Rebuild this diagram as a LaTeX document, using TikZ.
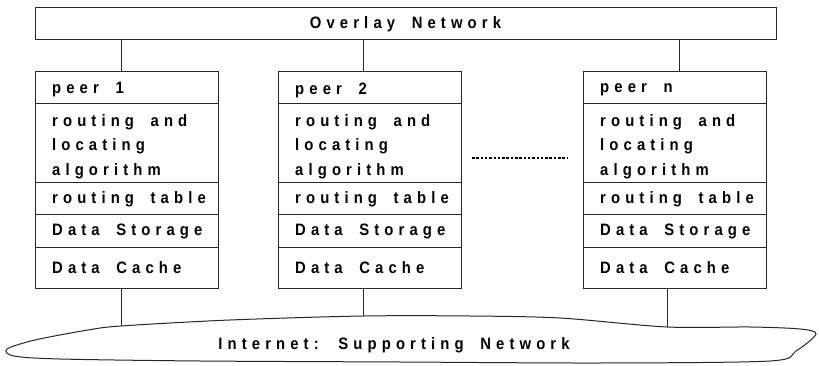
\documentclass[tikz,border=0pt]{standalone}
\usepackage{fontspec}
\setmainfont{Liberation Sans}[FakeStretch=0.9, LetterSpace=31, WordSpace=1.8]
\usetikzlibrary{positioning}

\begin{document}
\begin{tikzpicture}[x=1pt, y=-1pt,
        font=\fontsize{16.5}{24.5}\selectfont\bfseries,
        box/.style={draw=black!85, line width=1pt, inner sep=0pt, outer sep=0pt},
        rowbox/.style={box, minimum width=183pt},
        rowtext/.style={anchor=west, align=left, inner sep=0pt},
        wire/.style={draw=black!85, line width=1pt}]
    \useasboundingbox (0,0) rectangle (819,366);

    % overlay network on top
    \node[box, minimum width=741pt, minimum height=32pt] (overlay) at (405.5,24) {Overlay Network};

    % supporting network below
    \draw[wire] plot[smooth cycle, tension=0.5] coordinates {
        (7,349) (35,340) (88,330) (121,326) (230,320) (363,316) (470,316)
        (560,318) (667,327) (750,327) (800,329) (816,334) (796,351) (770,361)
        (600,363) (400,362) (200,361) (60,359) (14,356)};
    \node[inner sep=0pt] (internet) at (394,345) {Internet: Supporting Network};

    % the peers
    \foreach \i/\px/\tx/\bx/\by in {1/35/121/121/326, 2/278/363/363/316, n/583/679/667/327}
    {
        \node[rowbox, minimum height=32pt, anchor=north west] (head\i) at (\px,72) {};
        \node[rowbox, minimum height=79pt, below=0pt of head\i] (alg\i) {};
        \node[rowbox, minimum height=32pt, below=0pt of alg\i] (table\i) {};
        \node[rowbox, minimum height=32pt, below=0pt of table\i] (store\i) {};
        \node[rowbox, minimum height=41pt, below=0pt of store\i] (cache\i) {};

        \node[rowtext] (headtxt\i) at ([xshift=17pt,yshift=-2pt]head\i.west) {peer \i};
        \node[rowtext] (algtxt\i) at ([xshift=17pt,yshift=-3pt]alg\i.west) {routing and\\locating\\algorithm};
        \node[rowtext] (tabletxt\i) at ([xshift=17pt]table\i.west) {routing table};
        \node[rowtext] (storetxt\i) at ([xshift=17pt]store\i.west) {Data Storage};
        \node[rowtext] (cachetxt\i) at ([xshift=17pt]cache\i.west) {Data Cache};

        \coordinate (up\i) at (\tx,72);
        \coordinate (down\i) at (\bx,\by);
        \draw[wire] (overlay.south -| up\i) -- (up\i);
        \draw[wire] (cache\i.south -| down\i) -- (down\i);
    }

    % more peers in between
    \coordinate (dotsL) at (472,158);
    \coordinate (dotsR) at (567,158);
    \draw[line width=2pt, dash pattern=on 2.5pt off 1.8pt] (dotsL) -- (dotsR);
\end{tikzpicture}
\end{document}
